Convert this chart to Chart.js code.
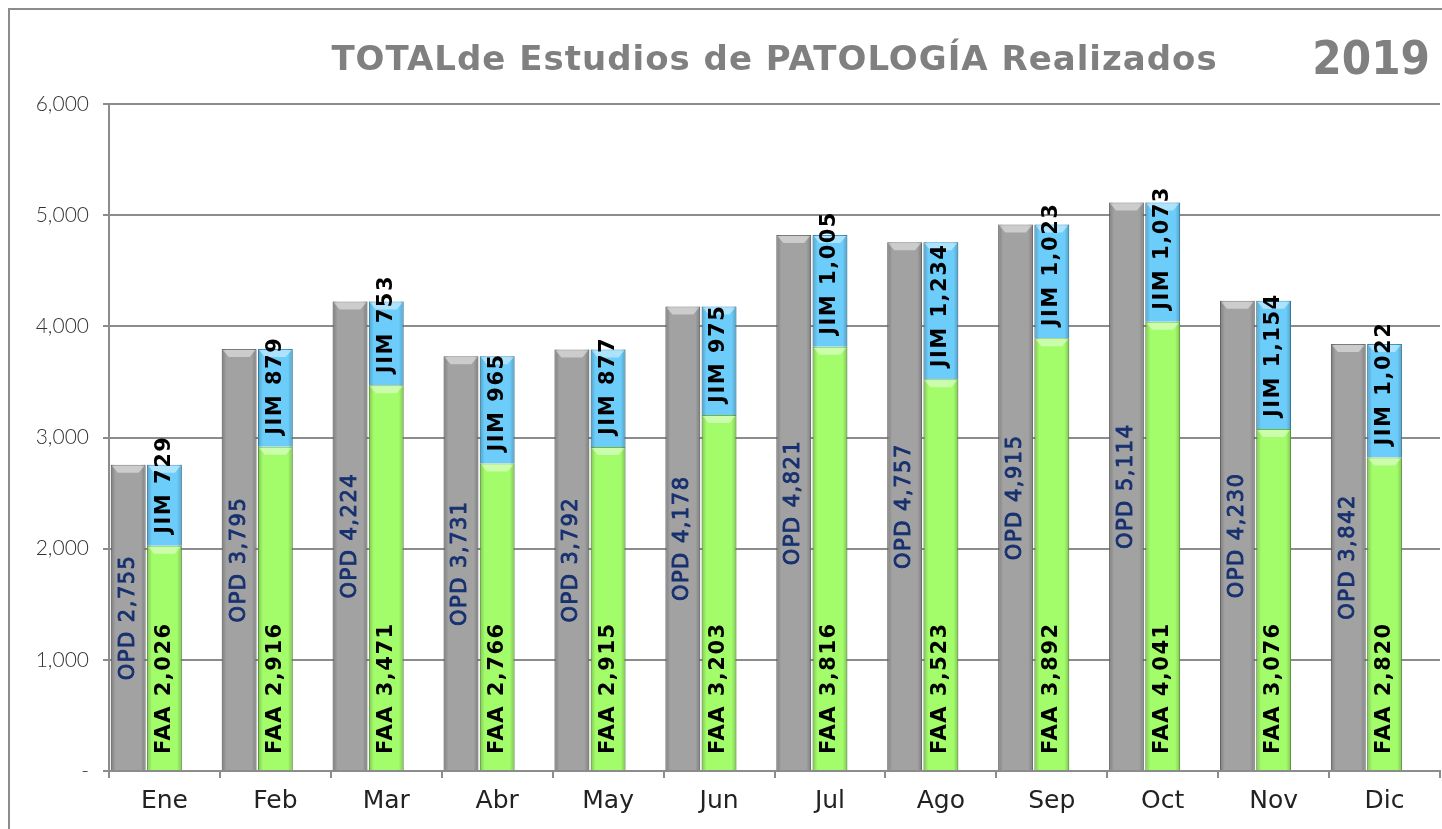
<!DOCTYPE html>
<html>
<head>
<meta charset="utf-8">
<script src="https://cdn.jsdelivr.net/npm/chart.js@4.4.1/dist/chart.umd.min.js"></script>
<style>
html, body { margin: 0; padding: 0; background: #fff; overflow: hidden; }
#frame { position: absolute; left: 8px; top: 8px; width: 1500px; height: 900px; border: 2px solid #8c8c8c; box-sizing: border-box; }
#wrap { position: absolute; left: 0; top: 0; width: 1442px; height: 829px; }
</style>
</head>
<body>
<div id="frame"></div>
<div id="wrap"><canvas id="myChart"></canvas></div>
<script>
'use strict';
let months = ['Ene','Feb','Mar','Abr','May','Jun','Jul','Ago','Sep','Oct','Nov','Dic'];
let opd = [2755, 3795, 4224, 3731, 3792, 4178, 4821, 4757, 4915, 5114, 4230, 3842];
let faa = [2026, 2916, 3471, 2766, 2915, 3203, 3816, 3523, 3892, 4041, 3076, 2820];
let jim = [729, 879, 753, 965, 877, 975, 1005, 1234, 1023, 1073, 1154, 1022];
let yTicks = [0, 1000, 2000, 3000, 4000, 5000, 6000];
let titleText = 'TOTALde Estudios de PATOLOGÍA Realizados';
let yearText = '2019';

let lineGray = '#8c8c8c';

function fmt(v) {
    return v.toLocaleString('en-US');
}

// draws text rotated so it reads bottom to top
function vText(ctx, txt, x, y, align, stroke) {
    ctx.save();
    ctx.translate(x, y);
    ctx.rotate(-Math.PI / 2);
    ctx.textAlign = align;
    ctx.textBaseline = 'middle';
    ctx.fillText(txt, 0, 0);
    if (stroke) {
        ctx.lineWidth = stroke;
        ctx.strokeStyle = ctx.fillStyle;
        ctx.strokeText(txt, 0, 0);
    }
    ctx.restore();
}

let barLabels = {
    id: 'barLabels',
    afterDatasetsDraw(chart) {
        let ctx = chart.ctx;
        // bevel shading on each bar
        for (let d = 0; d < 3; d++) {
            chart.getDatasetMeta(d).data.forEach(function (bar) {
                let left = bar.x - bar.width / 2;
                let right = bar.x + bar.width / 2;
                let top = Math.min(bar.y, bar.base);
                let h = Math.abs(bar.base - bar.y);
                let g = ctx.createLinearGradient(left, 0, right, 0);
                g.addColorStop(0, 'rgba(0,0,0,0.22)');
                g.addColorStop(0.14, 'rgba(0,0,0,0)');
                g.addColorStop(0.86, 'rgba(0,0,0,0)');
                g.addColorStop(1, 'rgba(0,0,0,0.22)');
                ctx.save();
                ctx.fillStyle = g;
                ctx.fillRect(left, top, right - left, h);
                ctx.fillStyle = 'rgba(255,255,255,0.45)';
                ctx.beginPath();
                ctx.moveTo(left + 1, top + 1);
                ctx.lineTo(right - 1, top + 1);
                ctx.lineTo(right - 7, top + 8);
                ctx.lineTo(left + 7, top + 8);
                ctx.closePath();
                ctx.fill();
                ctx.restore();
            });
        }

        ctx.save();
        ctx.letterSpacing = '1.5px';
        ctx.font = '21px "DejaVu Sans"';
        ctx.fillStyle = '#17306f';
        chart.getDatasetMeta(0).data.forEach(function (bar, i) {
            vText(ctx, 'OPD ' + fmt(opd[i]), bar.x, (bar.y + bar.base) / 2, 'center', 0.9);
        });
        ctx.letterSpacing = '1.5px';
        ctx.font = 'bold 21px "DejaVu Sans"';
        ctx.fillStyle = '#000';
        chart.getDatasetMeta(1).data.forEach(function (bar, i) {
            vText(ctx, 'FAA ' + fmt(faa[i]), bar.x, bar.base - 16, 'left');
        });
        chart.getDatasetMeta(2).data.forEach(function (bar, i) {
            vText(ctx, 'JIM ' + fmt(jim[i]), bar.x, bar.base - 12, 'left');
        });
        ctx.restore();
    },
    afterDraw(chart) {
        let ctx = chart.ctx;
        let area = chart.chartArea;
        ctx.save();
        ctx.fillStyle = '#808080';
        ctx.textBaseline = 'alphabetic';
        ctx.letterSpacing = '1px';
        ctx.font = 'bold 34px "DejaVu Sans"';
        ctx.textAlign = 'center';
        ctx.fillText(titleText, (area.left + area.right) / 2, 70);
        ctx.letterSpacing = '0px';
        ctx.font = 'bold 47px "DejaVu Sans"';
        ctx.textAlign = 'right';
        ctx.translate(1430, 74);
        ctx.scale(0.9, 1);
        ctx.fillText(yearText, 0, 0);
        ctx.restore();
    }
};

let ctxEl = document.getElementById('myChart');
let myChart = new Chart(ctxEl, {
    type: 'bar',
    data: {
        labels: months,
        datasets: [{
            label: 'OPD',
            data: opd,
            stack: 'opd',
            backgroundColor: '#a2a2a2',
            borderColor: '#7c7c7c',
            borderWidth: 1
        }, {
            label: 'FAA',
            data: faa,
            stack: 'hosp',
            backgroundColor: '#a3fc6a',
            borderColor: '#6fb845',
            borderWidth: 1
        }, {
            label: 'JIM',
            data: jim,
            stack: 'hosp',
            backgroundColor: '#6ccdfb',
            borderColor: '#3c98c8',
            borderWidth: 1
        }, {
            label: '',
            data: months.map(function () { return null; }),
            stack: 'empty'
        }]
    },
    options: {
        responsive: true,
        maintainAspectRatio: false,
        animation: false,
        datasets: {
            bar: { categoryPercentage: 0.98, barPercentage: 0.96 }
        },
        layout: { padding: { left: 0, top: 104, right: 2, bottom: 0 } },
        plugins: {
            legend: { display: false },
            title: { display: false },
            tooltip: { enabled: false }
        },
        scales: {
            x: {
                stacked: true,
                offset: true,
                grid: { offset: true, drawOnChartArea: false, drawTicks: true, tickLength: 7, color: lineGray, lineWidth: 2 },
                border: { color: lineGray, width: 2 },
                ticks: { color: '#222', padding: 8, font: { family: 'DejaVu Sans', size: 25 } },
                afterFit: function (s) { s.height = 58; }
            },
            y: {
                stacked: true,
                min: 0,
                max: 6000,
                afterBuildTicks: function (s) { s.ticks = yTicks.map(function (v) { return { value: v }; }); },
                grid: { color: lineGray, lineWidth: 2, tickLength: 6 },
                border: { color: lineGray, width: 2 },
                ticks: {
                    color: '#333',
                    padding: 14,
                    font: { family: 'Lato', weight: '300', size: 21 },
                    callback: function (v) { return v === 0 ? '-' : fmt(v); }
                },
                afterFit: function (s) { s.width = 109; }
            }
        }
    },
    plugins: [barLabels]
});
</script>
</body>
</html>
